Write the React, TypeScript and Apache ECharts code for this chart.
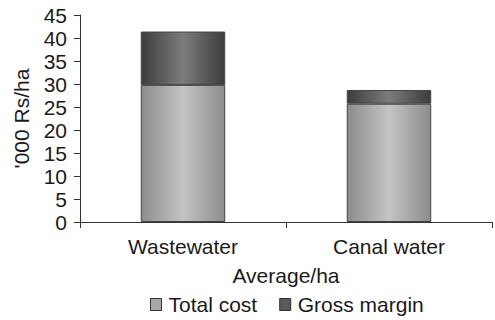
import React, { useEffect, useRef } from "react";
import * as echarts from "echarts";

const categories = ["Wastewater", "Canal water"];
const totalCost = [29.8, 25.7];
const grossMargin = [11.6, 3.0];
const yTicks = { min: 0, max: 45, interval: 5 };

function grad(edge: string, mid: string) {
  return new echarts.graphic.LinearGradient(0, 0, 1, 0, [
    { offset: 0, color: edge },
    { offset: 0.5, color: mid },
    { offset: 1, color: edge },
  ]);
}

export default function App() {
  const ref = useRef<HTMLDivElement>(null);
  useEffect(() => {
    const chart = echarts.init(ref.current!, undefined, { renderer: "svg" });
    const font = "Liberation Sans, Arial, sans-serif";
    chart.setOption({
      animation: false,
      backgroundColor: "#ffffff",
      textStyle: { fontFamily: font },
      grid: { left: 80, right: 3, top: 15, bottom: 98 },
      legend: {
        top: 289,
        left: 145,
        icon: "rect",
        itemWidth: 11,
        itemHeight: 12,
        itemGap: 22,
        textStyle: { fontSize: 21, color: "#1a1a1a", fontFamily: font, padding: [0, 0, 0, 2] },
        data: [
          { name: "Total cost", itemStyle: { color: "#a8a8a8", borderColor: "#333", borderWidth: 1 } },
          { name: "Gross margin", itemStyle: { color: "#5a5a5a", borderColor: "#333", borderWidth: 1 } },
        ],
      },
      xAxis: {
        type: "category",
        data: categories,
        name: "Average/ha",
        nameLocation: "middle",
        nameGap: 43,
        nameTextStyle: { fontSize: 21, color: "#1a1a1a" },
        axisLine: { lineStyle: { color: "#333", width: 1 } },
        axisTick: { show: true, length: 6, alignWithLabel: false, lineStyle: { color: "#333" } },
        axisLabel: { fontSize: 21, color: "#1a1a1a", margin: 14 },
      },
      yAxis: {
        type: "value",
        min: yTicks.min,
        max: yTicks.max,
        interval: yTicks.interval,
        name: "'000 Rs/ha",
        nameLocation: "middle",
        nameGap: 48,
        nameTextStyle: { fontSize: 21, color: "#1a1a1a" },
        axisLine: { show: true, lineStyle: { color: "#333", width: 1 } },
        axisTick: { show: true, length: 6, lineStyle: { color: "#333" } },
        axisLabel: { fontSize: 21, color: "#1a1a1a", margin: 13 },
        splitLine: { show: false },
      },
      series: [
        {
          name: "Total cost",
          type: "bar",
          stack: "a",
          data: totalCost,
          barWidth: "41%",
          itemStyle: { color: grad("#8c8c8c", "#c4c4c4"), borderColor: "#444", borderWidth: 1 },
        },
        {
          name: "Gross margin",
          type: "bar",
          stack: "a",
          data: grossMargin,
          barWidth: "41%",
          itemStyle: { color: grad("#3c3c3c", "#7c7c7c"), borderColor: "#444", borderWidth: 1 },
        },
      ],
    });
    return () => chart.dispose();
  }, []);
  return <div ref={ref} style={{ width: 495, height: 320, position: "absolute", left: 0, top: 0 }} />;
}
